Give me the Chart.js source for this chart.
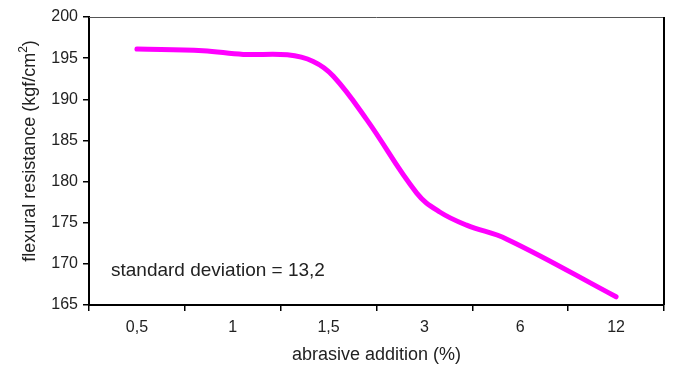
<!DOCTYPE html>
<html>
<head>
<meta charset="utf-8">
<title>Flexural resistance vs abrasive addition</title>
<script src="https://cdn.jsdelivr.net/npm/chart.js@4.4.1/dist/chart.umd.min.js"></script>
<style>
  html, body { margin: 0; padding: 0; background: #fff; }
  #wrap { width: 673px; height: 369px; }
</style>
</head>
<body>
<div id="wrap"><canvas id="chart" width="673" height="369"></canvas></div>
<script>
// abrasive addition (%) shown on the category axis
const categories = ["0,5", "1", "1,5", "3", "6", "12"];

// smoothed curve, sampled along the category axis (0 = "0,5", 5 = "12")
const curvePos = [0, 0.69, 1.11, 1.57, 1.84, 2.05, 2.4, 2.92, 3.16, 3.44, 3.86, 5.0];
const curveVal = [196.1, 195.9, 195.45, 195.4, 194.6, 192.8, 187.5, 178.6, 176.3, 174.7, 173.0, 166.0];

const yMin = 165;
const yMax = 200;
const yStep = 5;

const yTitle = "flexural resistance (kgf/cm";
const xTitle = "abrasive addition (%)";
const note = "standard deviation = 13,2";

const FONT = "'Liberation Sans', Arial, Helvetica, sans-serif";

// frame around the plot, rotated y title with superscript, and the note
const extras = {
  id: "extras",
  afterDraw(chart) {
    const ctx = chart.ctx;
    const a = chart.chartArea;
    ctx.save();

    ctx.strokeStyle = "#555";
    ctx.lineWidth = 1;
    ctx.beginPath();
    ctx.moveTo(a.left, a.top + 0.5);
    ctx.lineTo(a.right, a.top + 0.5);
    ctx.stroke();
    ctx.strokeStyle = "#000";
    ctx.lineWidth = 2;
    ctx.beginPath();
    ctx.moveTo(a.right, a.top);
    ctx.lineTo(a.right, a.bottom);
    ctx.stroke();

    ctx.fillStyle = "#222";
    ctx.font = "19px " + FONT;
    ctx.textBaseline = "alphabetic";
    ctx.textAlign = "left";
    ctx.fillText(note, a.left + 22, a.top + 259);

    // y title: main text + raised "2" + ")"
    const supFont = "12px " + FONT;
    ctx.font = "18px " + FONT;
    const wMain = ctx.measureText(yTitle).width;
    const wClose = ctx.measureText(")").width;
    ctx.font = supFont;
    const wSup = ctx.measureText("2").width;
    const total = wMain + wSup + wClose;
    ctx.translate(35, 151);
    ctx.rotate(-Math.PI / 2);
    let x = -total / 2;
    ctx.font = "18px " + FONT;
    ctx.fillText(yTitle, x, 0);
    x += wMain;
    ctx.font = supFont;
    ctx.fillText("2", x, -8);
    x += wSup;
    ctx.font = "18px " + FONT;
    ctx.fillText(")", x, 0);

    ctx.restore();
  }
};

new Chart(document.getElementById("chart"), {
  type: "line",
  data: {
    labels: categories,
    datasets: [
      {
        label: "flexural resistance",
        data: curvePos.map((p, i) => ({ x: p, y: curveVal[i] })),
        xAxisID: "xv",
        borderColor: "#ff00ff",
        borderWidth: 5,
        borderCapStyle: "round",
        borderJoinStyle: "round",
        pointRadius: 0,
        tension: 0.4,
        fill: false,
      },
    ],
  },
  plugins: [extras],
  options: {
    responsive: false,
    animation: false,
    devicePixelRatio: 1,
    layout: { padding: { top: 17, right: 9, left: 0, bottom: 0 } },
    plugins: {
      legend: { display: false },
      tooltip: { enabled: false },
    },
    scales: {
      x: {
        type: "category",
        position: "bottom",
        offset: true,
        afterFit: (s) => { s.height = 64; },
        border: { display: true, color: "#000", width: 2 },
        grid: {
          offset: true,
          drawOnChartArea: false,
          drawTicks: true,
          tickLength: 6,
          color: "#000",
          lineWidth: 1.5,
        },
        ticks: {
          color: "#222",
          font: { size: 16, family: FONT },
          padding: 7,
          maxRotation: 0,
        },
        title: {
          display: true,
          text: xTitle,
          color: "#222",
          font: { size: 18, family: FONT },
          padding: { top: 0, bottom: 3 },
        },
      },
      xv: {
        type: "linear",
        display: false,
        min: -0.5,
        max: 5.5,
      },
      y: {
        min: yMin,
        max: yMax,
        afterFit: (s) => { s.width = 89; },
        border: { display: true, color: "#000", width: 2 },
        grid: {
          drawOnChartArea: false,
          drawTicks: true,
          tickLength: 6,
          color: "#000",
          lineWidth: 1.5,
        },
        ticks: {
          stepSize: yStep,
          color: "#222",
          font: { size: 16, family: FONT },
          padding: 5,
        },
      },
    },
  },
});
</script>
</body>
</html>
